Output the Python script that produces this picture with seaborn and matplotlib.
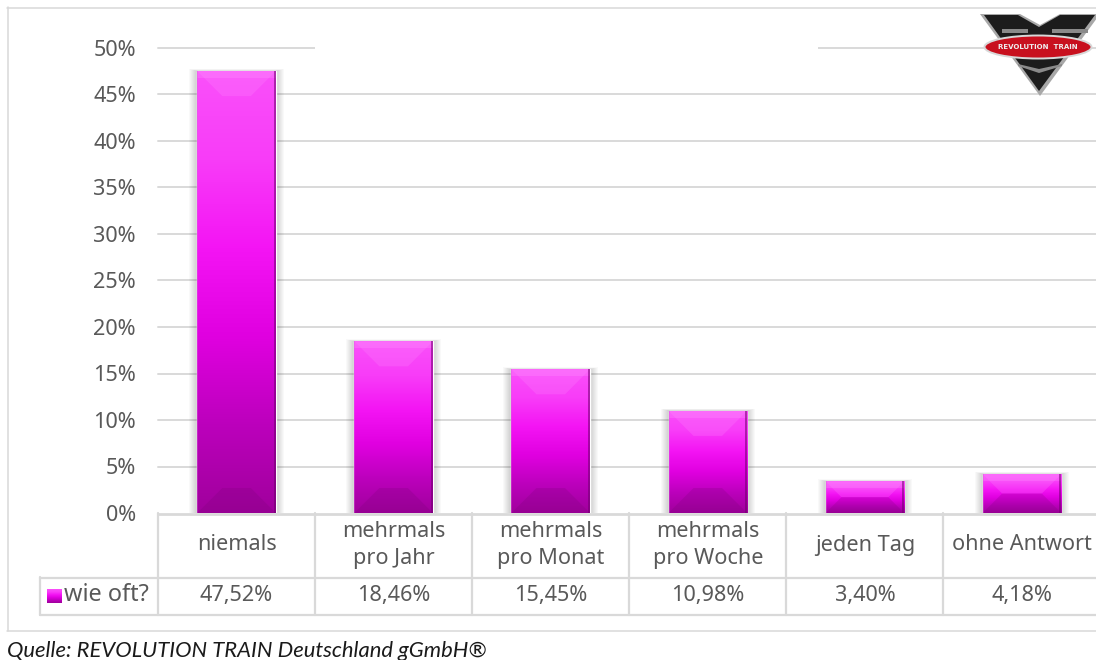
import numpy as np
import pandas as pd
import seaborn as sns
import matplotlib.pyplot as plt
from matplotlib.colors import LinearSegmentedColormap
from matplotlib.patches import Polygon, Rectangle, Ellipse

categories = ["niemals", "mehrmals\npro Jahr", "mehrmals\npro Monat",
              "mehrmals\npro Woche", "jeden Tag", "ohne Antwort"]
values = [47.52, 18.46, 15.45, 10.98, 3.40, 4.18]
value_labels = ["47,52%", "18,46%", "15,45%", "10,98%", "3,40%", "4,18%"]
y_ticks = [0, 5, 10, 15, 20, 25, 30, 35, 40, 45, 50]
series_name = "wie oft?"
source = "Quelle: REVOLUTION TRAIN Deutschland gGmbH®"

W, H = 1096, 660
TXT = "#595959"
LINE = "#D9D9D9"
FS = 15.6


def fx(px):
    return px / W


def fy(py):
    return 1 - py / H


sns.set_theme(style="white")
plt.rcParams["font.family"] = ["Noto Sans", "DejaVu Sans"]

fig = plt.figure(figsize=(W / 100, H / 100), dpi=100)
# axes run a bit past the right edge, the picture is cut off there
ax = fig.add_axes([fx(158), fy(513), (1100.5 - 158) / W, (513 - 48) / H])

df = pd.DataFrame({"cat": categories, "val": values})
sns.barplot(data=df, x="cat", y="val", color="#E000E0", width=0.5, saturation=1, ax=ax, zorder=3)
ax.set_ylim(0, 50)
ax.set_xlim(-0.5, 5.5)
ax.set_xlabel("")
ax.set_ylabel("")
ax.set_xticks([])
ax.set_yticks(y_ticks)
ax.set_yticklabels([f"{t}%" for t in y_ticks], fontsize=FS, color=TXT)
ax.tick_params(axis="y", length=0, pad=16)
ax.patch.set_alpha(0)
for s in ax.spines.values():
    s.set_visible(False)
ax.grid(False)
for t in y_ticks[1:]:
    ax.axhline(t, color=LINE, lw=1.4, zorder=1, clip_on=False)

# bevel look: vertical gradient, lighter/darker facets, soft shadow
grad = LinearSegmentedColormap.from_list(
    "bar", ["#FA50FA", "#F83CF8", "#F414F4", "#E000E0", "#BC00BC", "#A0009C"])
px_x = 942.5 / 6
px_y = 465 / 50
for bar in ax.patches:
    x0, w, h = bar.get_x(), bar.get_width(), bar.get_height()
    x1 = x0 + w
    # shadow falls off to the sides, almost nothing above the bar
    for grow in np.arange(8, 0, -1):
        ax.add_patch(Rectangle((x0 - grow / px_x, 0), w + 2 * grow / px_x, h + 0.25 * grow / px_y,
                               color="black", alpha=0.022, lw=0, zorder=2))
    im = ax.imshow(np.linspace(0, 1, 256).reshape(-1, 1), cmap=grad, aspect="auto",
                   extent=(x0, x1, 0, h), origin="upper", zorder=4)
    im.set_clip_path(bar)
    # facet size, limited by half of the bar height for the small bars
    b_px = min(25, h * px_y / 2)
    bx, by = b_px / px_x, b_px / px_y
    ax.add_patch(Polygon([(x0, h), (x1, h), (x1 - bx, h - by), (x0 + bx, h - by)],
                         color="#FF90FF", alpha=0.22, lw=0, zorder=5))
    ax.add_patch(Rectangle((x0, h - 7 / px_y), w, 7 / px_y, color="#FF9CFF", alpha=0.25, lw=0, zorder=5))
    ax.add_patch(Polygon([(x0, 0), (x1, 0), (x1 - bx, by), (x0 + bx, by)],
                         color="#7A0078", alpha=0.22, lw=0, zorder=5))
    ax.add_patch(Rectangle((x1 - 2 / px_x, 0), 2 / px_x, h, color="#70006E", alpha=0.55, lw=0, zorder=6))
    ax.add_patch(Rectangle((x0, 0), 1 / px_x, h, color="#E060E0", alpha=0.4, lw=0, zorder=6))

# title gap in the 50% line
fig.add_artist(Rectangle((fx(315), fy(52)), fx(818 - 315), 8 / H, color="white", lw=0, zorder=5))


def hline(x0, x1, y, lw=1.6):
    fig.add_artist(plt.Line2D([fx(x0), fx(x1)], [fy(y), fy(y)], color=LINE, lw=lw, zorder=6))


def vline(x, y0, y1, lw=1.6):
    fig.add_artist(plt.Line2D([fx(x), fx(x)], [fy(y0), fy(y1)], color=LINE, lw=lw, zorder=6))


# outer frame
hline(7, W, 7.5, 1.1)
vline(7.5, 7, 631, 1.1)
hline(7, W, 630.5, 1.1)

# data table below the axis
edges = [158 + i * px_x for i in range(7)]
hline(158, W, 513.5, 2)
hline(39.5, W, 577.5)
hline(39.5, W, 614.5)
vline(39.5, 577, 615)
for e in edges[:-1]:
    vline(e, 513, 615)
for i, (c, v) in enumerate(zip(categories, value_labels)):
    mid = (edges[i] + edges[i + 1]) / 2
    fig.text(fx(mid), fy(545), c, ha="center", va="center", fontsize=FS, color=TXT,
             linespacing=1.35, zorder=7)
    fig.text(fx(mid), fy(595), v, ha="center", va="center", fontsize=FS, color=TXT, zorder=7)
fig.text(fx(64), fy(595), series_name, ha="left", va="center", fontsize=FS + 1.3, color=TXT, zorder=7)

# legend key
key = fig.add_axes([fx(47), fy(603), 15 / W, 14 / H])
key.imshow(np.linspace(0, 1, 64).reshape(-1, 1), cmap=grad, aspect="auto")
key.axis("off")

fig.text(fx(7), fy(651), source, ha="left", va="center", fontsize=15.8, style="italic",
         family="Lato", color="#1A1A1A")

# logo top right
logo = fig.add_axes([fx(960), fy(110), 136 / W, 110 / H])
logo.set_xlim(0, 136)
logo.set_ylim(110, 0)
logo.axis("off")
logo.add_patch(Polygon([(20, 14), (60, 14), (80, 25), (100, 14), (140, 14), (80, 96)],
                       color="#A8A8A8", lw=0))
logo.add_patch(Polygon([(24, 15), (58, 15), (79, 27), (100, 15), (135, 15), (79, 91)],
                       color="#1C1C1C", lw=0))
logo.add_patch(Rectangle((42, 29), 26, 4, color="#8A8A8A", lw=0))
logo.add_patch(Rectangle((92, 29), 36, 4, color="#8A8A8A", lw=0))
logo.add_patch(Polygon([(58, 64), (79, 69), (102, 64), (102, 66), (79, 73), (58, 66)],
                       color="#8A8A8A", lw=0))
logo.add_patch(Ellipse((78, 47), 107, 23, facecolor="#C8101E", edgecolor="#D8D8D8", lw=1.4))
logo.text(78, 47, "REVOLUTION  TRAIN", ha="center", va="center", fontsize=5.0,
          color="#EEEEEE", fontweight="bold", family="DejaVu Sans")

fig.savefig("out.png", dpi=100, facecolor="white")
